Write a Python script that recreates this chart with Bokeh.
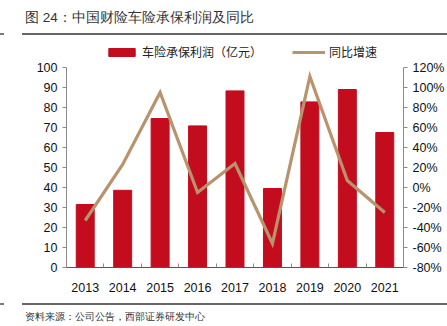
from bokeh.plotting import figure
from bokeh.layouts import column
from bokeh.models import (Range1d, LinearAxis, FixedTicker, Legend, LegendItem,
                          ColumnDataSource, Div)
from bokeh.embed import file_html
from bokeh.resources import INLINE

# ---- data ----
years = ["2013", "2014", "2015", "2016", "2017", "2018", "2019", "2020", "2021"]
profit = [31.5, 38.6, 74.5, 70.8, 88.3, 39.5, 82.8, 89.0, 67.5]      # 亿元
growth = [-33, 23, 95, -5, 24, -56, 111, 7, -25]                      # %
left_ticks = [0, 10, 20, 30, 40, 50, 60, 70, 80, 90, 100]
right_ticks = [-80, -60, -40, -20, 0, 20, 40, 60, 80, 100, 120]

title_text = "图 24：中国财险车险承保利润及同比"
source_text = "资料来源：公司公告，西部证券研发中心"
bar_name = "车险承保利润（亿元）"
line_name = "同比增速"

BAR_COLOR = "#C30D1F"
LINE_COLOR = "#B8936C"
AXIS_COLOR = "#8a8a8a"
RULE_COLOR = "#333333"
NUM_FONT = "Liberation Sans"
CJK_FONT = "Noto Sans CJK SC"

W = 447
TOP_H, MAIN_H, BOT_H = 40, 258, 28
FL, FR = 66, 405            # frame left / right (px)
AX_TOP, AX_BOT = 27, 227    # pixel rows of the axis tops (100 / 120%) and the x axis, in the main figure
EXTRA_W = 23                # svg strip drawn a little wider than the page
px_per_unit = (AX_BOT - AX_TOP) / (left_ticks[-1] - left_ticks[0])
px_per_pct = (AX_BOT - AX_TOP) / (right_ticks[-1] - right_ticks[0])
y_top = left_ticks[-1] + AX_TOP / px_per_unit        # frame reaches the figure top (room for legend)
pct_top = right_ticks[-1] + AX_TOP / px_per_pct


def svg_strip(h, text, text_y, size, rule_y):
    sw = W + EXTRA_W
    return (
        f'<svg xmlns="http://www.w3.org/2000/svg" width="{sw}" height="{h}" '
        f'style="display:block;position:absolute;left:0;top:0">'
        f'<text x="25" y="{text_y}" dominant-baseline="central" font-family="{CJK_FONT}" '
        f'font-size="{size}" fill="#333333">{text}</text>'
        f'<line x1="22" y1="{rule_y}" x2="{sw}" y2="{rule_y}" stroke="{RULE_COLOR}" stroke-width="1.3"/>'
        f'<line x1="0" y1="{rule_y}" x2="4" y2="{rule_y}" stroke="{RULE_COLOR}" stroke-width="1.3"/>'
        f'</svg>'
    )


top = Div(text=svg_strip(TOP_H, title_text, 17, 13.5, 34), width=W, height=TOP_H, margin=0,
          styles={"position": "relative", "overflow": "visible"})

# ---- main chart ----
xs = list(range(len(years)))
src = ColumnDataSource(dict(x=xs, profit=profit, growth=growth))

p = figure(width=W, height=MAIN_H, output_backend="svg", toolbar_location=None,
           x_range=Range1d(-0.5, len(years) - 0.5), y_range=Range1d(0, y_top),
           min_border_left=FL, min_border_right=W - FR,
           min_border_top=0, min_border_bottom=MAIN_H - AX_BOT)
p.title.text = ""
p.extra_y_ranges = {"pct": Range1d(right_ticks[0], pct_top)}
p.outline_line_color = None
p.xgrid.visible = False
p.ygrid.visible = False
p.border_fill_color = "white"

bars = p.vbar(x="x", top="profit", width=0.48, source=src, color=BAR_COLOR)
line = p.line(x="x", y="growth", source=src, y_range_name="pct",
              line_color=LINE_COLOR, line_width=3.2, line_join="miter")

xa = p.xaxis[0]
xa.ticker = FixedTicker(ticks=xs, minor_ticks=[i - 0.5 for i in range(len(years) + 1)])
xa.major_label_overrides = {i: y for i, y in enumerate(years)}
xa.major_tick_line_color = None
xa.minor_tick_in = 4
xa.minor_tick_out = 0
xa.minor_tick_line_color = AXIS_COLOR
xa.axis_line_color = "#555555"
xa.axis_line_width = 1.2
xa.major_label_text_font = NUM_FONT
xa.major_label_text_font_size = "12.5px"
xa.major_label_text_color = "#111111"
xa.major_label_standoff = 9

ya = p.yaxis[0]
ya.ticker = FixedTicker(ticks=left_ticks)
ya.bounds = (left_ticks[0], left_ticks[-1])
ya.minor_tick_line_color = None
ya.major_tick_in = 0
ya.major_tick_out = 4
ya.major_tick_line_color = AXIS_COLOR
ya.axis_line_color = AXIS_COLOR
ya.major_label_text_font = NUM_FONT
ya.major_label_text_font_size = "12.5px"
ya.major_label_text_color = "#111111"
ya.major_label_standoff = 5

ra = LinearAxis(y_range_name="pct", ticker=FixedTicker(ticks=right_ticks),
                bounds=(right_ticks[0], right_ticks[-1]))
ra.major_label_overrides = {t: f"{t}%" for t in right_ticks}
ra.minor_tick_line_color = None
ra.major_tick_in = 0
ra.major_tick_out = 4
ra.major_tick_line_color = AXIS_COLOR
ra.axis_line_color = AXIS_COLOR
ra.major_label_text_font = NUM_FONT
ra.major_label_text_font_size = "12.5px"
ra.major_label_text_color = "#111111"
ra.major_label_standoff = 5
p.add_layout(ra, "right")

legend = Legend(items=[LegendItem(label=bar_name, renderers=[bars]),
                       LegendItem(label=line_name, renderers=[line])],
                orientation="horizontal", location=(105 - FL, AX_BOT - 20),
                glyph_width=33, glyph_height=10, label_standoff=4, spacing=30,
                padding=0, margin=0, border_line_color=None, background_fill_alpha=0,
                label_text_font=CJK_FONT, label_text_font_size="12px",
                label_text_color="#222222", label_height=14)
p.add_layout(legend, "center")

# ---- bottom: rule and source ----
bot = Div(text=svg_strip(BOT_H, source_text, 18, 10, 6), width=W, height=BOT_H, margin=0,
          styles={"position": "relative", "overflow": "visible"})

layout = column(top, p, bot, spacing=0)
open("out.html", "w").write(file_html(layout, INLINE))
